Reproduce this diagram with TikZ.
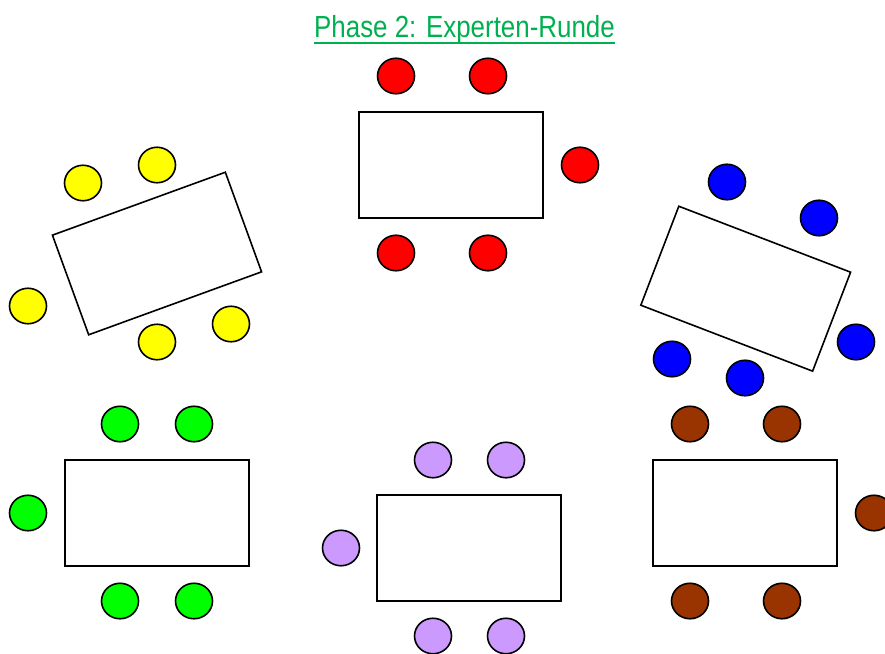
\documentclass[tikz,border=0pt]{standalone}
\usepackage{fontspec}
\newfontfamily\titlefont[FakeStretch=0.85]{Liberation Sans}
\usetikzlibrary{shapes.geometric}
\definecolor{titlegreen}{RGB}{0,176,80}
\definecolor{cred}{RGB}{255,0,0}
\definecolor{cyellow}{RGB}{255,255,0}
\definecolor{cblue}{RGB}{0,0,255}
\definecolor{cgreen}{RGB}{0,255,0}
\definecolor{cpurple}{RGB}{204,153,255}
\definecolor{cbrown}{RGB}{153,51,0}
\tikzset{
  tablebox/.style={draw=black, line width=1.6pt, fill=white, rectangle, inner sep=0pt, minimum width=184pt, minimum height=106pt},
  chair/.style={draw=black, line width=1.6pt, ellipse, inner sep=0pt, minimum width=37pt, minimum height=35.5pt, fill=#1},
}
\begin{document}
\begin{tikzpicture}[x=1pt,y=-1pt]
\useasboundingbox (0,0) rectangle (885,653);
% title
\node[anchor=base, inner sep=0pt, text=titlegreen, font=\titlefont\fontsize{30.5}{34}\selectfont] (title) at (464.5,37.5) {Phase 2: Experten-Runde};
\draw[titlegreen, line width=2pt] (title.base west) ++(0,5.2) coordinate (ul1) -- (ul1 -| title.base east);
% red table
\node[tablebox] (tred) at (451,165) {};
\node[chair=cred] (r1) at (396,76) {};
\node[chair=cred] (r2) at (488,76) {};
\node[chair=cred] (r3) at (580,165) {};
\node[chair=cred] (r4) at (396,253) {};
\node[chair=cred] (r5) at (488,253) {};
% yellow table
\node[tablebox, rotate=20] (tyel) at (157,253.5) {};
\node[chair=cyellow] (y1) at (83,183) {};
\node[chair=cyellow] (y2) at (157,165) {};
\node[chair=cyellow] (y3) at (28,306) {};
\node[chair=cyellow] (y4) at (157,342) {};
\node[chair=cyellow] (y5) at (231,324) {};
% blue table
\node[tablebox, rotate=-21] (tblu) at (745.7,288.7) {};
\node[chair=cblue] (b1) at (727,182) {};
\node[chair=cblue] (b2) at (819,218) {};
\node[chair=cblue] (b3) at (856,342) {};
\node[chair=cblue] (b4) at (672,359) {};
\node[chair=cblue] (b5) at (745,378) {};
% green table
\node[tablebox] (tgrn) at (157,513) {};
\node[chair=cgreen] (g1) at (120,424) {};
\node[chair=cgreen] (g2) at (194,424) {};
\node[chair=cgreen] (g3) at (28,513) {};
\node[chair=cgreen] (g4) at (120,601) {};
\node[chair=cgreen] (g5) at (194,601) {};
% purple table
\node[tablebox] (tpur) at (469,548) {};
\node[chair=cpurple] (p1) at (433,460) {};
\node[chair=cpurple] (p2) at (506,460) {};
\node[chair=cpurple] (p3) at (341,548) {};
\node[chair=cpurple] (p4) at (433,636) {};
\node[chair=cpurple] (p5) at (506,636) {};
% brown table
\node[tablebox] (tbrn) at (745,513) {};
\node[chair=cbrown] (w1) at (690,424) {};
\node[chair=cbrown] (w2) at (782,424) {};
\node[chair=cbrown] (w3) at (874,513) {};
\node[chair=cbrown] (w4) at (690,601) {};
\node[chair=cbrown] (w5) at (782,601) {};
\end{tikzpicture}
\end{document}
